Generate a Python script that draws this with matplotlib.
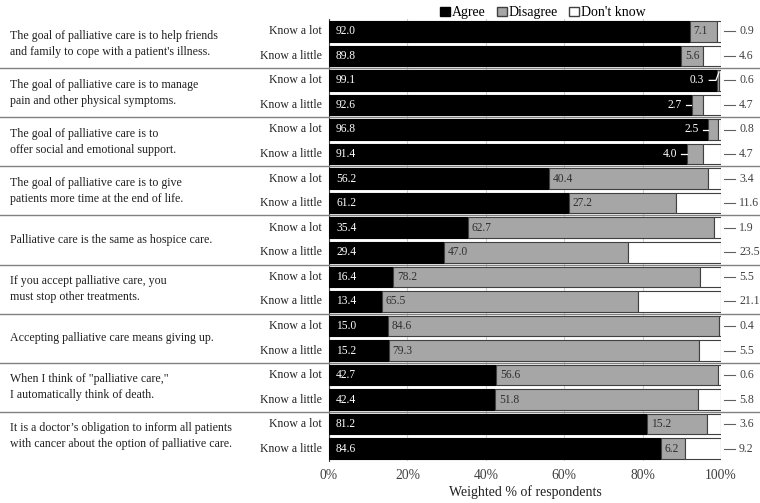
import matplotlib
matplotlib.use('Agg')
import matplotlib.pyplot as plt
import matplotlib.transforms as mtransforms
from matplotlib.patches import Patch
import numpy as np

plt.rcParams['font.family'] = ['Liberation Serif', 'DejaVu Serif']

# ---------------------------------------------------------------------------
# Data
# ---------------------------------------------------------------------------
statements = [
    "The goal of palliative care is to help friends\nand family to cope with a patient's illness.",
    "The goal of palliative care is to manage\npain and other physical symptoms.",
    "The goal of palliative care is to\noffer social and emotional support.",
    "The goal of palliative care is to give\npatients more time at the end of life.",
    "Palliative care is the same as hospice care.",
    "If you accept palliative care, you\nmust stop other treatments.",
    "Accepting palliative care means giving up.",
    "When I think of \"palliative care,\"\nI automatically think of death.",
    "It is a doctor\u2019s obligation to inform all patients\nwith cancer about the option of palliative care.",
]
knowledge = ["Know a lot", "Know a little"]

agree_lot     = [92.0, 99.1, 96.8, 56.2, 35.4, 16.4, 15.0, 42.7, 81.2]
disagree_lot  = [7.1, 0.3, 2.5, 40.4, 62.7, 78.2, 84.6, 56.6, 15.2]
dontknow_lot  = [0.9, 0.6, 0.8, 3.4, 1.9, 5.5, 0.4, 0.6, 3.6]

agree_little    = [89.8, 92.6, 91.4, 61.2, 29.4, 13.4, 15.2, 42.4, 84.6]
disagree_little = [5.6, 2.7, 4.0, 27.2, 47.0, 65.5, 79.3, 51.8, 6.2]
dontknow_little = [4.6, 4.7, 4.7, 11.6, 23.5, 21.1, 5.5, 5.8, 9.2]

GRAY = '#a6a6a6'
EDGE = '#404040'

fig = plt.figure(figsize=(7.6, 5.03), dpi=100)
ax = fig.add_axes([329 / 760, 1 - 461 / 503, 392 / 760, 442 / 503])

n = len(statements)
bar_h = 0.84

for i in range(n):
    rows = [
        (2 * i + 0.5, agree_lot[i], disagree_lot[i], dontknow_lot[i]),
        (2 * i + 1.5, agree_little[i], disagree_little[i], dontknow_little[i]),
    ]
    for y, a, d, k in rows:
        ax.barh(y, a, height=bar_h, color='black', edgecolor='black', lw=0.8, zorder=3)
        ax.barh(y, d, left=a, height=bar_h, color=GRAY, edgecolor=EDGE, lw=0.8, zorder=3)
        ax.barh(y, k, left=a + d, height=bar_h, color='white', edgecolor=EDGE, lw=0.8, zorder=3)

        # agree value
        ax.text(1.8, y, f"{a:.1f}", color='white', va='center', ha='left',
                fontsize=8.3, zorder=5)

        # disagree value
        if d >= 5:
            ax.text(a + 1.0, y, f"{d:.1f}", color='#303030', va='center', ha='left',
                    fontsize=8.3, zorder=5)
        elif d < 1:
            ax.text(a - 3.4, y, f"{d:.1f}", color='white', va='center', ha='right',
                    fontsize=8.3, zorder=5)
            ax.plot([a - 2.1, a - 0.4, a + 0.4], [y, y, y - 0.34],
                    color='white', lw=0.9, zorder=5)
        else:
            ax.text(a - 2.5, y, f"{d:.1f}", color='white', va='center', ha='right',
                    fontsize=8.3, zorder=5)
            ax.plot([a - 1.5, a - 0.2], [y, y], color='white', lw=0.9, zorder=5)

        # don't know value, outside with leader
        ax.plot([100.8, 103.6], [y, y], color='#606060', lw=0.8, clip_on=False)
        ax.text(104.6, y, f"{k:.1f}", color='#404040', va='center', ha='left',
                fontsize=8.5, clip_on=False)

# row labels and statements
fig_y = mtransforms.blended_transform_factory(fig.transFigure, ax.transData)
for i, s in enumerate(statements):
    ax.text(10 / 760, 2 * i + 1.0, s, transform=fig_y, ha='left', va='center',
            fontsize=8.6, linespacing=1.45, color='#202020')
    for j, lab in enumerate(knowledge):
        ax.text(322 / 760, 2 * i + 0.5 + j, lab, transform=fig_y, ha='right',
                va='center', fontsize=8.5, color='#202020')
    if i > 0:
        ax.plot([0, 1], [2 * i, 2 * i], transform=fig_y, color='#808080',
                lw=1.0, clip_on=False, zorder=6)

ax.set_xlim(0, 100)
ax.set_ylim(2 * n, 0)
ax.set_xticks(np.arange(0, 101, 20))
ax.set_xticklabels([f"{t}%" for t in range(0, 101, 20)], fontsize=9.8, color='#404040')
ax.tick_params(axis='x', length=0, pad=6)
ax.set_yticks([])
ax.grid(axis='x', color='#d0d0d0', lw=0.8, zorder=0)
ax.set_axisbelow(True)
for side in ['top', 'right', 'bottom']:
    ax.spines[side].set_visible(False)
ax.spines['left'].set_color(EDGE)
ax.spines['left'].set_linewidth(0.8)
ax.set_xlabel("Weighted % of respondents", fontsize=10, color='#202020', labelpad=2)

handles = [
    Patch(facecolor='black', edgecolor='black', label='Agree'),
    Patch(facecolor=GRAY, edgecolor=EDGE, label='Disagree'),
    Patch(facecolor='white', edgecolor=EDGE, label="Don't know"),
]
fig.legend(handles=handles, loc='upper center', bbox_to_anchor=(543 / 760, 1.012),
           ncol=3, frameon=False, fontsize=10, handlelength=0.7, handleheight=0.7,
           handletextpad=0.15, columnspacing=0.8)

fig.savefig('out.png', dpi=100)
